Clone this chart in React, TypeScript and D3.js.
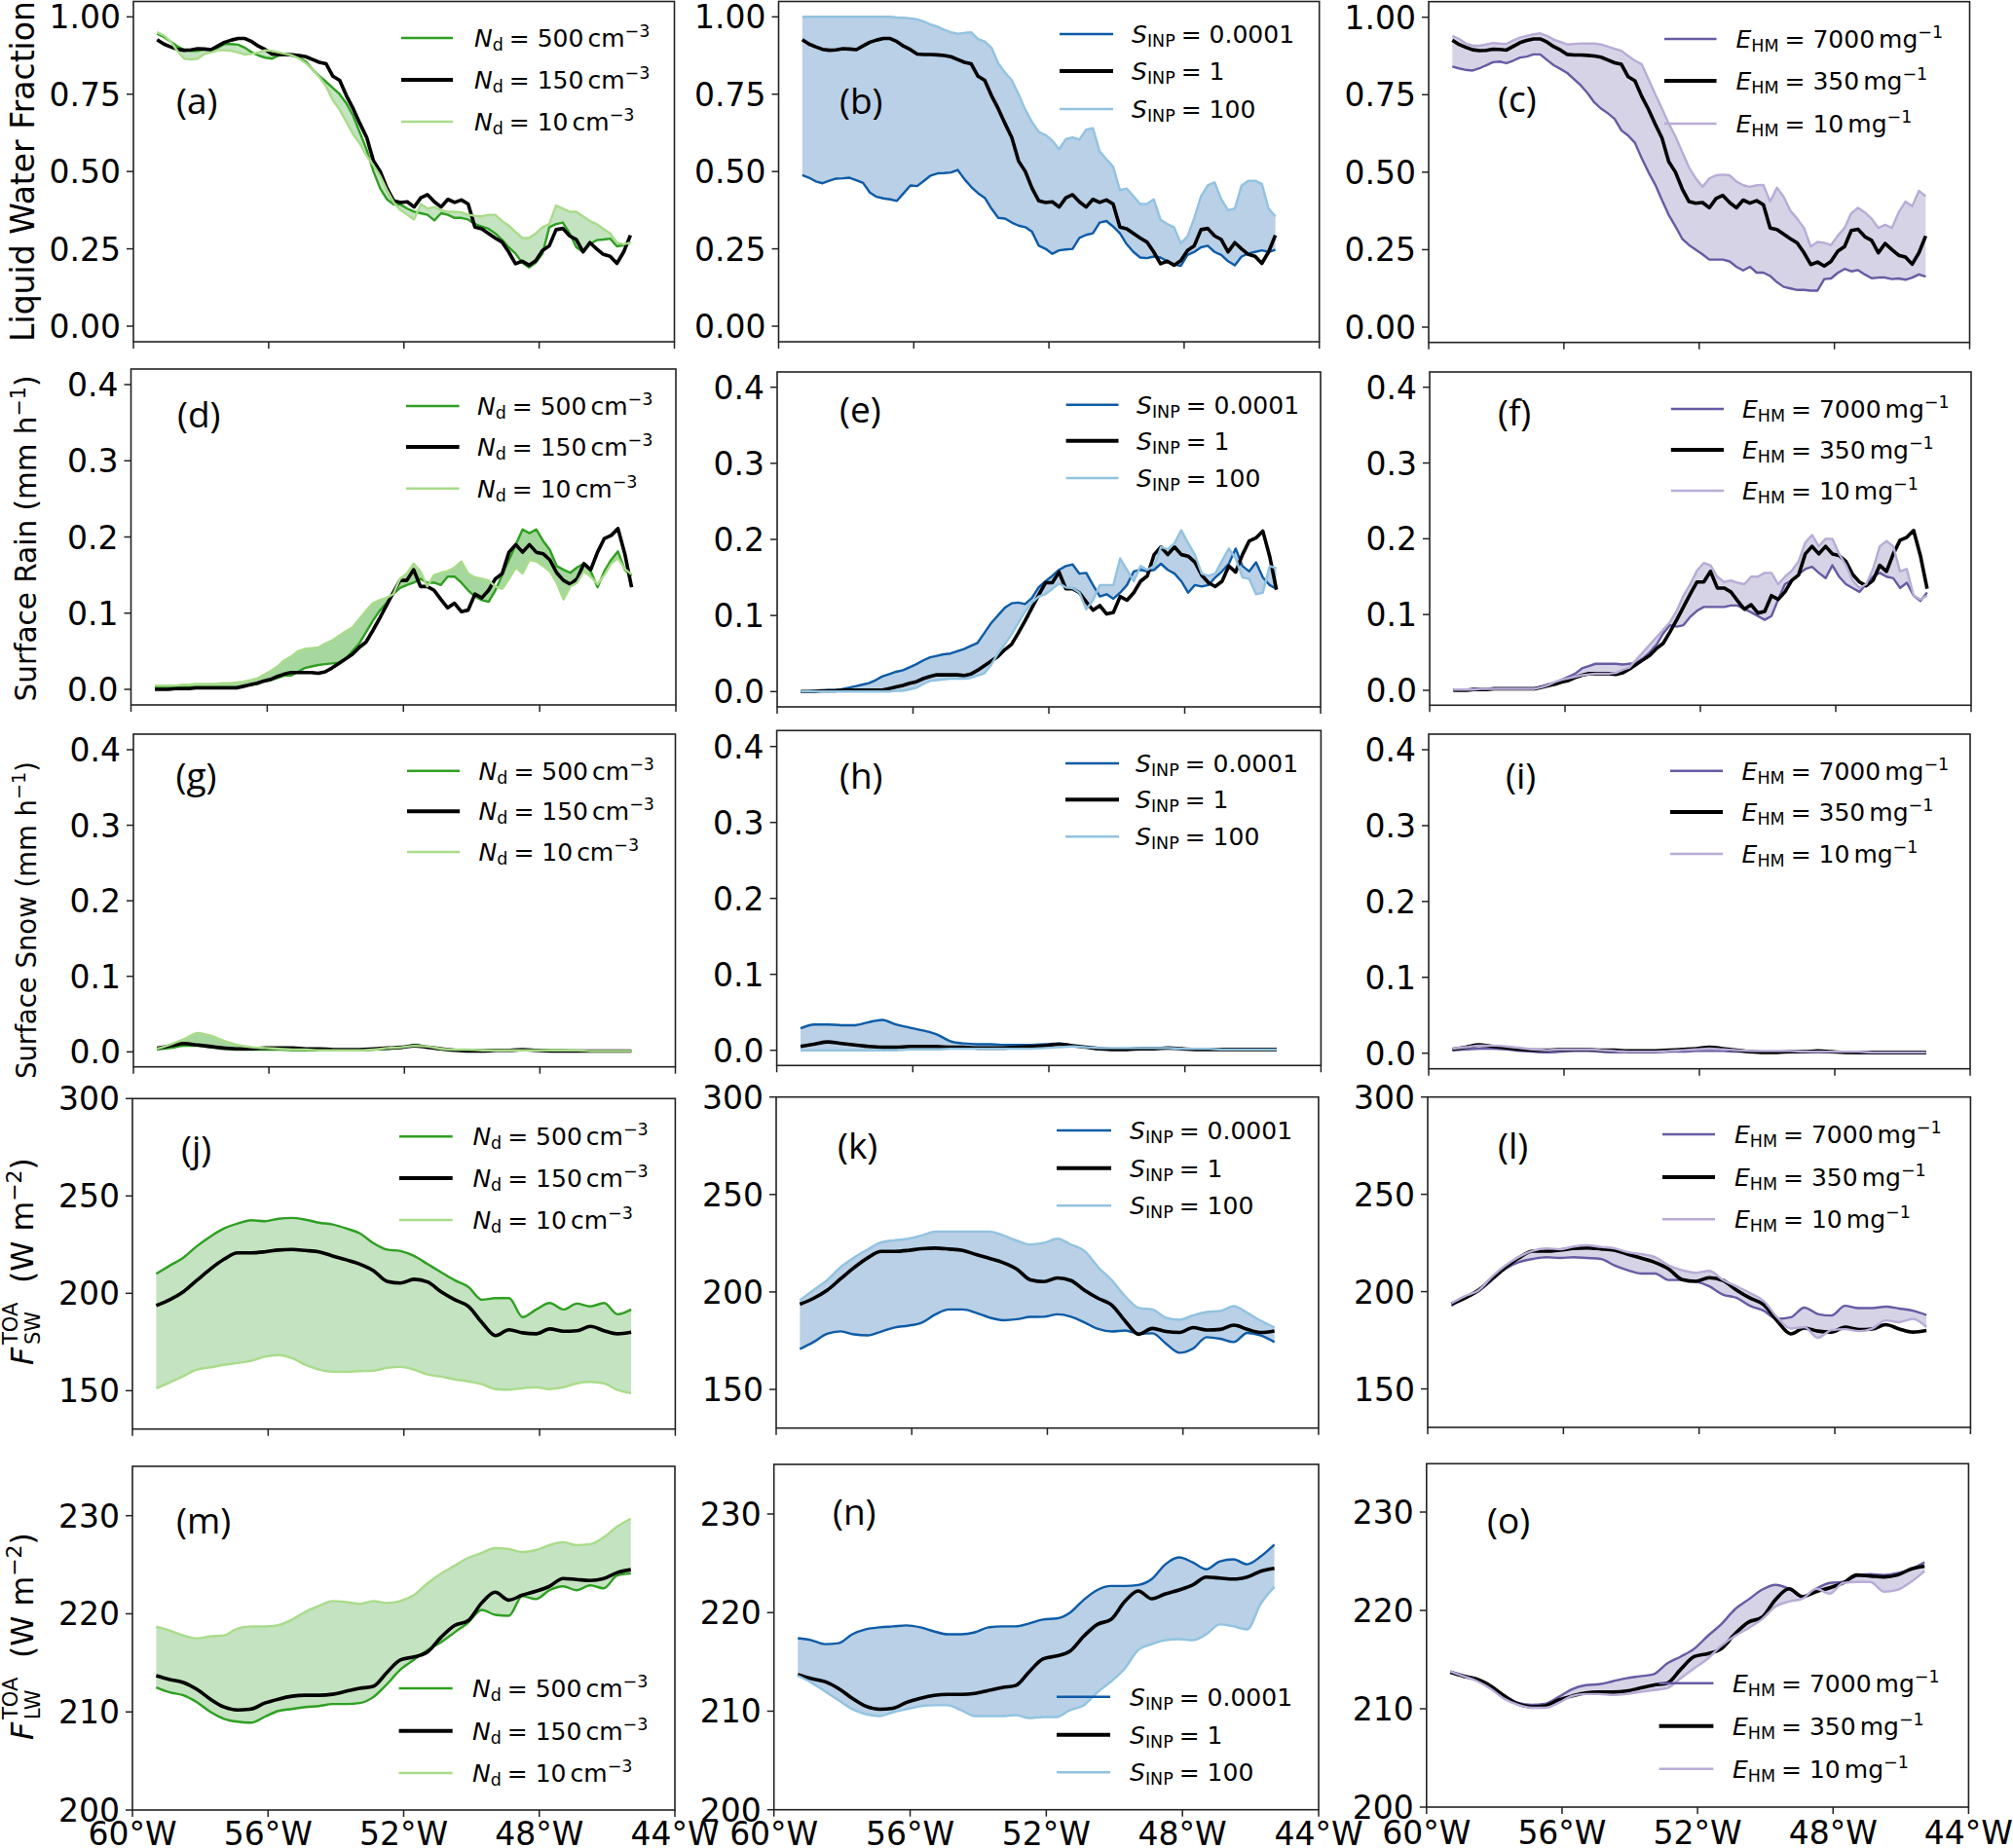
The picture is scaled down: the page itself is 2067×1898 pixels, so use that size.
import React from "react";
import * as d3 from "d3";

const lonStart = -59.3;
const lonEnd = -45.3;
const xTicks = [-60, -56, -52, -48, -44];

// Liquid water fraction
const lwfCtl = [.926,.912,.903,.895,.892,.893,.897,.896,.894,.906,.918,.925,.93,.93,.92,.905,.894,.88,.878,.878,.877,.875,.871,.862,.853,.848,.808,.795,.745,.703,.655,.61,.534,.5,.446,.405,.4,.402,.385,.415,.425,.402,.385,.41,.4,.408,.395,.32,.315,.3,.285,.272,.24,.202,.21,.197,.212,.245,.26,.312,.316,.292,.28,.24,.27,.25,.232,.226,.203,.24,.294];
const lwfN500 = [.945,.935,.92,.905,.893,.89,.89,.895,.893,.9,.912,.912,.91,.9,.885,.875,.868,.865,.875,.878,.875,.868,.855,.83,.808,.79,.77,.75,.72,.68,.625,.57,.5,.445,.41,.393,.393,.38,.37,.365,.36,.342,.365,.36,.35,.35,.345,.33,.322,.315,.3,.28,.255,.235,.205,.19,.205,.235,.32,.33,.335,.3,.255,.24,.265,.278,.28,.283,.258,.262,.273];
const lwfN10 = [.95,.94,.92,.89,.865,.862,.865,.88,.885,.892,.892,.89,.885,.878,.88,.885,.892,.89,.885,.88,.875,.865,.85,.83,.805,.775,.73,.7,.66,.62,.59,.55,.52,.485,.44,.4,.375,.36,.345,.395,.38,.385,.375,.37,.37,.368,.36,.357,.355,.36,.36,.34,.325,.305,.285,.285,.3,.32,.33,.39,.38,.37,.37,.355,.34,.33,.315,.3,.27,.265,.27];
const lwfS0001 = [.488,.48,.468,.462,.47,.477,.478,.48,.472,.463,.432,.418,.413,.41,.405,.43,.455,.453,.47,.487,.494,.495,.497,.505,.475,.45,.43,.415,.38,.35,.348,.335,.325,.32,.305,.26,.25,.234,.245,.248,.25,.285,.295,.3,.335,.34,.322,.3,.265,.24,.222,.22,.225,.222,.21,.2,.195,.23,.24,.255,.26,.24,.23,.21,.197,.225,.235,.24,.245,.24,.247];
const lwfS100 = [1,1,1,1,1,1,1,1,1,1,1,1,1,1,.998,.997,.995,.992,.985,.975,.968,.958,.95,.945,.948,.95,.928,.92,.9,.85,.82,.795,.75,.7,.66,.628,.618,.6,.572,.605,.61,.603,.635,.64,.565,.54,.515,.44,.445,.42,.395,.395,.41,.345,.33,.32,.268,.29,.35,.42,.455,.465,.41,.375,.38,.455,.47,.47,.46,.38,.355];
const lwfE7000 = [.841,.835,.83,.828,.835,.845,.855,.857,.852,.86,.87,.873,.88,.88,.862,.845,.833,.82,.8,.78,.755,.725,.705,.69,.672,.635,.618,.595,.545,.5,.46,.41,.362,.325,.285,.265,.25,.235,.218,.218,.218,.212,.195,.183,.195,.176,.176,.165,.145,.13,.125,.12,.12,.118,.118,.155,.157,.175,.188,.18,.184,.17,.158,.16,.16,.155,.157,.153,.16,.17,.163];
const lwfE10 = [.94,.93,.915,.908,.908,.912,.917,.915,.914,.925,.934,.94,.945,.948,.94,.928,.92,.912,.914,.915,.915,.915,.912,.905,.898,.892,.875,.86,.848,.8,.752,.705,.657,.615,.565,.515,.48,.453,.48,.49,.492,.49,.47,.458,.453,.458,.459,.405,.45,.42,.375,.35,.32,.26,.275,.272,.265,.295,.32,.368,.385,.37,.35,.32,.33,.32,.37,.405,.39,.44,.422];

// Surface rain
const rainCtl = [0,0,0,.001,.001,.001,.002,.002,.002,.002,.002,.002,.002,.004,.006,.008,.011,.013,.017,.02,.022,.022,.022,.022,.021,.023,.028,.034,.04,.046,.055,.062,.077,.093,.11,.127,.143,.143,.157,.135,.135,.13,.118,.107,.113,.102,.104,.125,.12,.13,.145,.152,.18,.19,.18,.19,.18,.178,.17,.153,.143,.138,.145,.165,.157,.18,.198,.202,.211,.178,.134];
const rainN500 = [.003,.003,.003,.003,.003,.003,.003,.003,.003,.003,.003,.003,.003,.004,.006,.007,.01,.012,.015,.018,.018,.023,.028,.03,.032,.033,.034,.035,.04,.05,.06,.075,.09,.103,.113,.125,.133,.137,.14,.145,.14,.14,.137,.148,.148,.14,.13,.122,.117,.115,.13,.15,.17,.19,.21,.205,.21,.195,.183,.162,.157,.153,.16,.165,.155,.134,.155,.17,.181,.157,.149];
const rainN10 = [.005,.005,.005,.005,.006,.006,.007,.007,.007,.007,.008,.008,.009,.01,.012,.014,.019,.024,.03,.038,.043,.05,.053,.054,.055,.06,.064,.07,.076,.081,.092,.103,.113,.117,.12,.125,.145,.152,.165,.155,.135,.15,.153,.155,.16,.168,.152,.147,.145,.143,.135,.132,.145,.16,.152,.17,.168,.162,.155,.14,.118,.135,.14,.155,.148,.138,.15,.165,.172,.158,.151];
const rainS0001 = [0,0,.001,.001,.002,.002,.003,.005,.007,.009,.011,.015,.02,.023,.026,.028,.032,.036,.041,.045,.047,.049,.05,.053,.056,.06,.064,.077,.09,.1,.11,.116,.117,.115,.123,.137,.145,.152,.16,.165,.167,.155,.156,.14,.125,.128,.122,.13,.14,.158,.16,.158,.16,.168,.16,.155,.145,.13,.14,.138,.14,.15,.158,.168,.188,.165,.158,.17,.15,.14,.135];
const rainS100 = [0,0,0,0,0,0,0,0,0,0,0,0,0,0,.001,.001,.003,.005,.01,.014,.015,.016,.017,.017,.017,.018,.021,.024,.035,.05,.062,.075,.09,.105,.117,.125,.128,.135,.142,.137,.136,.13,.108,.12,.14,.14,.14,.175,.16,.145,.165,.16,.165,.19,.187,.195,.212,.195,.18,.155,.152,.155,.172,.188,.175,.15,.148,.128,.13,.165,.162];
const rainE7000 = [.001,.001,.001,.002,.002,.002,.003,.003,.003,.003,.003,.003,.003,.005,.008,.01,.014,.018,.022,.029,.032,.035,.035,.035,.035,.034,.035,.036,.042,.05,.06,.075,.086,.084,.086,.097,.105,.11,.11,.11,.11,.112,.112,.107,.103,.098,.093,.098,.12,.14,.145,.153,.16,.163,.155,.148,.165,.15,.14,.135,.13,.14,.15,.155,.15,.148,.135,.142,.125,.118,.129];
const rainE10 = [.001,.001,.001,.001,.002,.002,.002,.002,.002,.002,.002,.002,.002,.004,.007,.011,.014,.016,.018,.02,.021,.022,.022,.022,.023,.027,.03,.04,.05,.06,.07,.08,.09,.105,.125,.14,.158,.168,.165,.15,.143,.145,.142,.14,.15,.15,.155,.155,.14,.15,.158,.17,.195,.205,.19,.2,.2,.18,.165,.145,.135,.14,.16,.19,.197,.19,.157,.16,.125,.12,.125];

// Surface snow
const snowCtl = [.005,.008,.011,.009,.007,.005,.004,.004,.005,.005,.005,.004,.004,.003,.003,.003,.004,.005,.006,.008,.006,.004,.002,.001,.001,.002,.002,.003,.002,.001,.001,.001,.001,.001,.001,.001];
const snowN500 = [.003,.005,.008,.008,.006,.004,.003,.003,.003,.003,.002,.002,.002,.002,.002,.003,.003,.004,.005,.009,.006,.003,.002,.002,.002,.002,.002,.002,.002,.002,.002,.001,.001,.001,.001,.001];
const snowN10 = [.004,.01,.017,.025,.021,.014,.009,.006,.005,.004,.003,.003,.002,.002,.002,.002,.003,.005,.006,.008,.007,.004,.003,.003,.002,.002,.002,.002,.002,.002,.002,.002,.001,.001,.001,.001];
const snowS0001 = [.029,.034,.034,.033,.033,.037,.04,.034,.03,.026,.021,.012,.009,.008,.008,.007,.007,.007,.008,.009,.006,.004,.002,.002,.002,.003,.003,.003,.002,.002,.002,.002,.002,.002,.002,.002];
const snowS100 = [0,0,0,0,0,0,0,0,.001,.001,.001,.002,.002,.002,.002,.002,.002,.002,.003,.004,.005,.004,.003,.003,.003,.003,.003,.003,.002,.002,.002,.001,.001,.001,.001,.001];
const snowE7000 = [.004,.005,.006,.006,.005,.003,.002,.001,.002,.003,.003,.002,.001,.001,.001,.001,.002,.002,.003,.003,.003,.002,.002,.001,.001,.001,.001,.001,.001,.001,0,0,0,0,0,0];
const snowE10 = [.006,.008,.01,.01,.009,.007,.005,.004,.005,.005,.005,.004,.003,.002,.002,.002,.003,.004,.005,.006,.005,.004,.003,.003,.003,.003,.002,.002,.002,.002,.002,.001,.001,.001,.001,.001];

// TOA shortwave
const swCtl = [193.7,196.7,200.8,206.7,212.5,217.5,220.8,220.8,221.3,222.2,222.5,222,221.3,219.2,217.2,215,211.7,206.2,205.3,207.2,205.8,200.8,196.7,193.3,185,178.3,181.3,179.7,179.2,181.7,180.5,180.8,183,180.8,179.2,180];
const swN500 = [210,214.2,218.3,224.2,229.2,233.3,235.8,237.5,237,238.3,238.7,237.8,236.3,235.3,233.3,230.8,225.8,222.5,221.7,219.2,215,210.8,206.7,203.3,196.7,197.5,197.5,187.8,191.7,195,191.7,194.7,193.3,195,189.2,191.7];
const swN10 = [151.2,154.2,157.5,160.8,162,163.3,164.2,165.3,167.5,168.3,166.7,163.3,160.8,159.7,159.7,160,160.3,161.7,162.2,160.8,158.3,157.2,155.8,154.7,153.3,150.8,150.5,151.3,151.7,150.8,151.7,153.8,154.5,153.7,150.3,148.7];
const swS0001 = [170.7,174.3,178.5,179.8,178.2,177.7,179.7,181.8,182.7,184.3,188.5,191,191,189.3,186.8,185.5,186,187.2,187.3,188.5,187.3,184.3,181,179.7,180.2,178.5,178.8,173.5,168.8,171,176.8,176,174.3,179,177.7,174.3];
const swS100 = [195.7,201,206,212.7,217.7,221.8,225.5,226.5,227.3,229,231,231,231,231,231,229,226.3,224.3,225.2,227.3,224.3,221,212.7,206,197.7,191.8,191,186.8,185.7,188,189.7,190.2,192.7,189.3,185.2,181.8];
const swE7000 = [192.7,196.8,200.2,206,211.8,215.2,216.8,217.7,217.3,217.7,217.3,216.8,213.5,211,209.3,209.3,206,206,205.2,202.7,198.5,196.8,192.7,190.2,186,186.8,191.8,188.5,187.7,192.7,191.5,191.5,192.3,191.3,190.2,188];
const swE10 = [194,197.7,200.7,207.7,213.5,218,221,222.2,221.8,223.2,223.8,223,222.2,220.2,219.3,217.7,213.5,211,209.7,210.7,206,202.7,199.3,195.2,186.8,181,181.8,176.3,180.2,180.7,179.7,181,185.2,184.3,186,181.8];

// TOA longwave
const lwCtl = [213.7,213.3,213,212.3,211.3,210.5,210.2,210.3,210.9,211.3,211.6,211.7,211.7,211.8,212.1,212.4,212.6,214,215.3,215.6,216.1,217.6,218.8,219.3,221.1,222.2,221.4,221.9,222.3,222.8,223.6,223.5,223.4,223.6,224.2,224.5];
const lwN500 = [212.5,212,211.7,211,210,209.3,209,208.9,209.5,210.1,210.3,210.5,210.6,210.8,210.8,210.9,211.5,212.8,214.3,215.3,216.3,217.1,218.1,219.1,220.4,219.9,219.8,221.8,221.5,222.4,222.8,222.4,222.9,222.6,223.9,224.1];
const lwN10 = [218.7,218.3,217.8,217.5,217.7,217.8,218.5,218.7,218.7,218.84,219.4,220.2,220.8,221.3,221.2,221,221.3,221.1,221.3,221.9,223.1,224.1,224.9,225.7,226.2,226.7,226.6,226.3,226.5,227,227.3,227,227.1,227.8,228.9,229.7];
const lwS0001 = [217.4,217.2,216.8,216.9,217.8,218.3,218.5,218.6,218.7,218.5,218.1,217.8,217.8,218,218.5,218.6,218.6,218.9,219.3,219.4,220,221.3,222.3,222.7,222.7,222.8,223.4,224.9,225.6,225.1,224.4,225.2,225.4,224.9,225.7,226.9];
const lwS100 = [213.6,212.9,212,211.1,210.2,209.7,209.5,209.9,210.2,210.5,210.6,210.6,210.1,209.5,209.5,209.5,209.6,209.3,209.4,209.4,210.1,210.6,211.9,213,214.3,216.2,216.8,217.2,217.3,217.2,217.8,218.8,218.6,218.3,220.9,222.6];
const lwE7000 = [213.8,213.4,213,212.3,211.3,210.6,210.4,210.5,211.2,212,212.4,212.5,212.8,213.1,213.3,213.5,214.6,215.3,216.1,217.4,218.6,220.1,221.1,222.1,222.6,222.2,221.4,222.2,222.8,222.9,223.5,223.7,223.6,223.8,224.2,224.9];
const lwE10 = [213.8,213.3,212.8,212,211,210.4,210.1,210.1,210.6,211.3,211.5,211.5,211.4,211.5,211.7,211.9,212.1,213.1,214.1,215.1,216.4,217.4,218.2,219.1,220.4,220.9,221.2,222.2,221.7,222.8,222.9,222.9,221.9,222.1,222.9,224];

const ticksLwf = [0, 0.25, 0.5, 0.75, 1];
const ticksPrecip = [0, 0.1, 0.2, 0.3, 0.4];
const ticksSw = [150, 200, 250, 300];
const ticksLw = [200, 210, 220, 230];

const green = { hi: "#2f9f22", lo: "#a9dc8a", fill: "#c4e3c0", sym: "N", sub: "d", vals: ["500", "150", "10"], unit: "cm", exp: "−3" };
const blue = { hi: "#0e5ba6", lo: "#92c3e0", fill: "#b9d0e6", sym: "S", sub: "INP", vals: ["0.0001", "1", "100"], unit: "", exp: "" };
const purple = { hi: "#675ba3", lo: "#b8acd6", fill: "#d6d3e6", sym: "E", sub: "HM", vals: ["7000", "350", "10"], unit: "mg", exp: "−1" };

type P = {
  tag: string; g: any; hi: number[]; lo: number[]; ctl: number[]; fill?: string;
  f: [number, number, number, number]; // left,right,top,bottom
  t: number[]; tl: [number, number]; // tick pixel for lowest, highest tick
  fmt: string; lx: number; ly: number; // panel tag
  leg: [number, number, number, number, number, number]; // line x0,x1,text x,y1,y2,y3
  xl?: number;
};

const panels: P[] = [
  { tag: "(a)", g: green, hi: lwfN500, lo: lwfN10, ctl: lwfCtl, f: [137, 692.5, 1.5, 351], t: ticksLwf, tl: [335, 17.3], fmt: ".2f", lx: 181, ly: 105, leg: [412, 465, 487, 39, 82, 125] },
  { tag: "(b)", g: blue, hi: lwfS0001, lo: lwfS100, ctl: lwfCtl, f: [799.5, 1354.7, 1.5, 351], t: ticksLwf, tl: [335, 17.3], fmt: ".2f", lx: 862, ly: 105, leg: [1088, 1143, 1162, 35, 73, 112] },
  { tag: "(c)", g: purple, hi: lwfE7000, lo: lwfE10, ctl: lwfCtl, f: [1467, 2022.5, 1.7, 351.7], t: ticksLwf, tl: [336, 17.7], fmt: ".2f", lx: 1538, ly: 103, leg: [1709, 1762.5, 1782.5, 40, 83, 127] },
  { tag: "(d)", g: green, hi: rainN500, lo: rainN10, ctl: rainCtl, fill: "#a6d79e", f: [134.5, 694, 379, 724], t: ticksPrecip, tl: [708, 395], fmt: ".1f", lx: 182, ly: 427, leg: [417, 471.6, 490, 417, 459, 501.7] },
  { tag: "(e)", g: blue, hi: rainS0001, lo: rainS100, ctl: rainCtl, f: [798, 1356, 382, 726], t: ticksPrecip, tl: [710.3, 397.7], fmt: ".1f", lx: 862, ly: 422, leg: [1094.6, 1148.5, 1167, 415.7, 452.7, 491] },
  { tag: "(f)", g: purple, hi: rainE7000, lo: rainE10, ctl: rainCtl, f: [1468, 2024, 382, 724.3], t: ticksPrecip, tl: [709, 397.7], fmt: ".1f", lx: 1538, ly: 425, leg: [1715.8, 1770, 1789, 420, 462, 504] },
  { tag: "(g)", g: green, hi: snowN500, lo: snowN10, ctl: snowCtl, fill: "#a6d79e", f: [137, 693.5, 754, 1095.7], t: ticksPrecip, tl: [1080.3, 770], fmt: ".1f", lx: 180.6, ly: 798, leg: [418, 472, 491.6, 791.7, 833.3, 875] },
  { tag: "(h)", g: blue, hi: snowS0001, lo: snowS100, ctl: snowCtl, f: [797.6, 1356.4, 750.3, 1094.3], t: ticksPrecip, tl: [1078.7, 766.7], fmt: ".1f", lx: 862, ly: 798, leg: [1094, 1149, 1166, 784, 821.3, 859.3] },
  { tag: "(i)", g: purple, hi: snowE7000, lo: snowE10, ctl: snowCtl, f: [1467, 2023, 754, 1097.7], t: ticksPrecip, tl: [1081.7, 770], fmt: ".1f", lx: 1546, ly: 798, leg: [1715, 1769, 1788.6, 791.7, 834, 877] },
  { tag: "(j)", g: green, hi: swN500, lo: swN10, ctl: swCtl, f: [136, 693.4, 1128.3, 1467.7], t: ticksSw, tl: [1428.3, 1128.3], fmt: "d", lx: 186, ly: 1181, leg: [410, 464.7, 485.4, 1167.3, 1210, 1253] },
  { tag: "(k)", g: blue, hi: swS0001, lo: swS100, ctl: swCtl, f: [797, 1353.9, 1126.7, 1466.7], t: ticksSw, tl: [1427, 1126.7], fmt: "d", lx: 860, ly: 1178, leg: [1085, 1141, 1160, 1161, 1199.7, 1238.3] },
  { tag: "(l)", g: purple, hi: swE7000, lo: swE10, ctl: swCtl, f: [1466, 2023.4, 1126.7, 1466], t: ticksSw, tl: [1426.5, 1126.7], fmt: "d", lx: 1538, ly: 1178, leg: [1707, 1761, 1781, 1165, 1209, 1252.3] },
  { tag: "(m)", g: green, hi: lwN500, lo: lwN10, ctl: lwCtl, f: [136, 693, 1506, 1859], t: ticksLw, tl: [1859, 1556.7], fmt: "d", lx: 181, ly: 1563, leg: [409.6, 464.7, 485, 1734, 1777.7, 1821], xl: 1895 },
  { tag: "(n)", g: blue, hi: lwS0001, lo: lwS100, ctl: lwCtl, f: [794.7, 1354, 1504, 1858.7], t: ticksLw, tl: [1858.7, 1555], fmt: "d", lx: 855, ly: 1554, leg: [1085, 1140, 1160, 1742.7, 1781.7, 1820.3], xl: 1895 },
  { tag: "(o)", g: purple, hi: lwE7000, lo: lwE10, ctl: lwCtl, f: [1464.8, 2021.4, 1503.3, 1856], t: ticksLw, tl: [1856, 1553], fmt: "d", lx: 1527, ly: 1563, leg: [1703.6, 1759.4, 1779, 1728.7, 1772.7, 1816.7], xl: 1894 },
];

const FONT = "'DejaVu Sans', sans-serif";
const lonOf = (i: number, n: number) => lonStart + ((lonEnd - lonStart) * i) / (n - 1);

function Legend({ p }: { p: P }) {
  const { g, leg } = p;
  const ys = [leg[3], leg[4], leg[5]];
  const cols = [g.hi, "#000", g.lo];
  return (
    <g fontFamily={FONT} fontSize={25}>
      {ys.map((y, k) => (
        <g key={k}>
          <line x1={leg[0]} x2={leg[1]} y1={y} y2={y} stroke={cols[k]} strokeWidth={k === 1 ? 4 : 2.6} />
          <text x={leg[2]} y={y + 9}>
            <tspan fontStyle="italic">{g.sym}</tspan>
            <tspan dy={4} fontSize={17.5}>{g.sub}</tspan>
            <tspan dy={-4} dx={6}>= {g.vals[k]}</tspan>
            {g.unit ? <tspan dx={4}>{g.unit}</tspan> : null}
            {g.exp ? <tspan dy={-10} fontSize={17.5}>{g.exp}</tspan> : null}
          </text>
        </g>
      ))}
    </g>
  );
}

function Panel({ p }: { p: P }) {
  const [l, r, t, b] = p.f;
  const x = d3.scaleLinear().domain([-60, -44]).range([l, r]);
  const y = d3.scaleLinear().domain([p.t[0], p.t[p.t.length - 1]]).range(p.tl);
  const n = p.hi.length;
  const curve = n > 40 ? d3.curveLinear : d3.curveMonotoneX;
  const area = d3
    .area<number>()
    .x((_, i) => x(lonOf(i, n)))
    .y0((_, i) => y(p.lo[i]))
    .y1((_, i) => y(p.hi[i]))
    .curve(curve);
  const line = d3
    .line<number>()
    .x((_, i, a) => x(lonOf(i, (a as number[]).length)))
    .y((v) => y(v))
    .curve(curve);
  const fmt = p.fmt === "d" ? d3.format("d") : d3.format(p.fmt);
  return (
    <g>
      <path d={area(p.hi) as string} fill={p.fill ?? p.g.fill} />
      <path d={line(p.hi) as string} fill="none" stroke={p.g.hi} strokeWidth={2.4} strokeLinejoin="round" />
      <path d={line(p.ctl) as string} fill="none" stroke="#000" strokeWidth={3.6} strokeLinejoin="round" />
      <path d={line(p.lo) as string} fill="none" stroke={p.g.lo} strokeWidth={2.4} strokeLinejoin="round" />
      <rect x={l} y={t} width={r - l} height={b - t} fill="none" stroke="#222" strokeWidth={1.6} />
      {p.t.map((v) => (
        <g key={v}>
          <line x1={l - 7} x2={l} y1={y(v)} y2={y(v)} stroke="#222" strokeWidth={1.5} />
          <text x={l - 13} y={y(v) + 12} textAnchor="end" fontFamily={FONT} fontSize={33}>{fmt(v)}</text>
        </g>
      ))}
      {xTicks.map((v) => (
        <g key={v}>
          <line x1={x(v)} x2={x(v)} y1={b} y2={b + 7} stroke="#222" strokeWidth={1.5} />
          {p.xl ? (
            <text x={x(v)} y={p.xl} textAnchor="middle" fontFamily={FONT} fontSize={33}>{`${-v}°W`}</text>
          ) : null}
        </g>
      ))}
      <text x={p.lx} y={p.ly + 12} fontFamily="'Open Sans', Lato, sans-serif" fontSize={37}>{p.tag}</text>
      <Legend p={p} />
    </g>
  );
}

function FluxLabel({ yStart, sub }: { yStart: number; sub: string }) {
  return (
    <g transform={`translate(34,${yStart}) rotate(-90)`} fontFamily={FONT} fontSize={31.5}>
      <text x={0} y={0} fontStyle="italic">F</text>
      <text x={21} y={-16} fontSize={21}>TOA</text>
      <text x={21} y={7} fontSize={21}>{sub}</text>
      <text x={84} y={0}>
        (W m<tspan dy={-12} fontSize={22}>−2</tspan><tspan dy={12}>)</tspan>
      </text>
    </g>
  );
}

function PrecipLabel({ yc, name, size }: { yc: number; name: string; size: number }) {
  return (
    <text transform={`translate(37,${yc}) rotate(-90)`} textAnchor="middle" fontFamily={FONT} fontSize={size}>
      {name} (mm h<tspan dy={-11} fontSize={size * 0.7}>−1</tspan><tspan dy={11}>)</tspan>
    </text>
  );
}

export default function App() {
  return (
    <svg width={2067} height={1898} style={{ position: "absolute", left: 0, top: 0, background: "#fff" }}>
      {panels.map((p) => (
        <Panel key={p.tag} p={p} />
      ))}
      <text transform="translate(35,176) rotate(-90)" textAnchor="middle" fontFamily={FONT} fontSize={33}>Liquid Water Fraction</text>
      <PrecipLabel yc={553} name="Surface Rain" size={29.5} />
      <PrecipLabel yc={945} name="Surface Snow" size={27.5} />
      <FluxLabel yStart={1402} sub="SW" />
      <FluxLabel yStart={1787} sub="LW" />
    </svg>
  );
}
